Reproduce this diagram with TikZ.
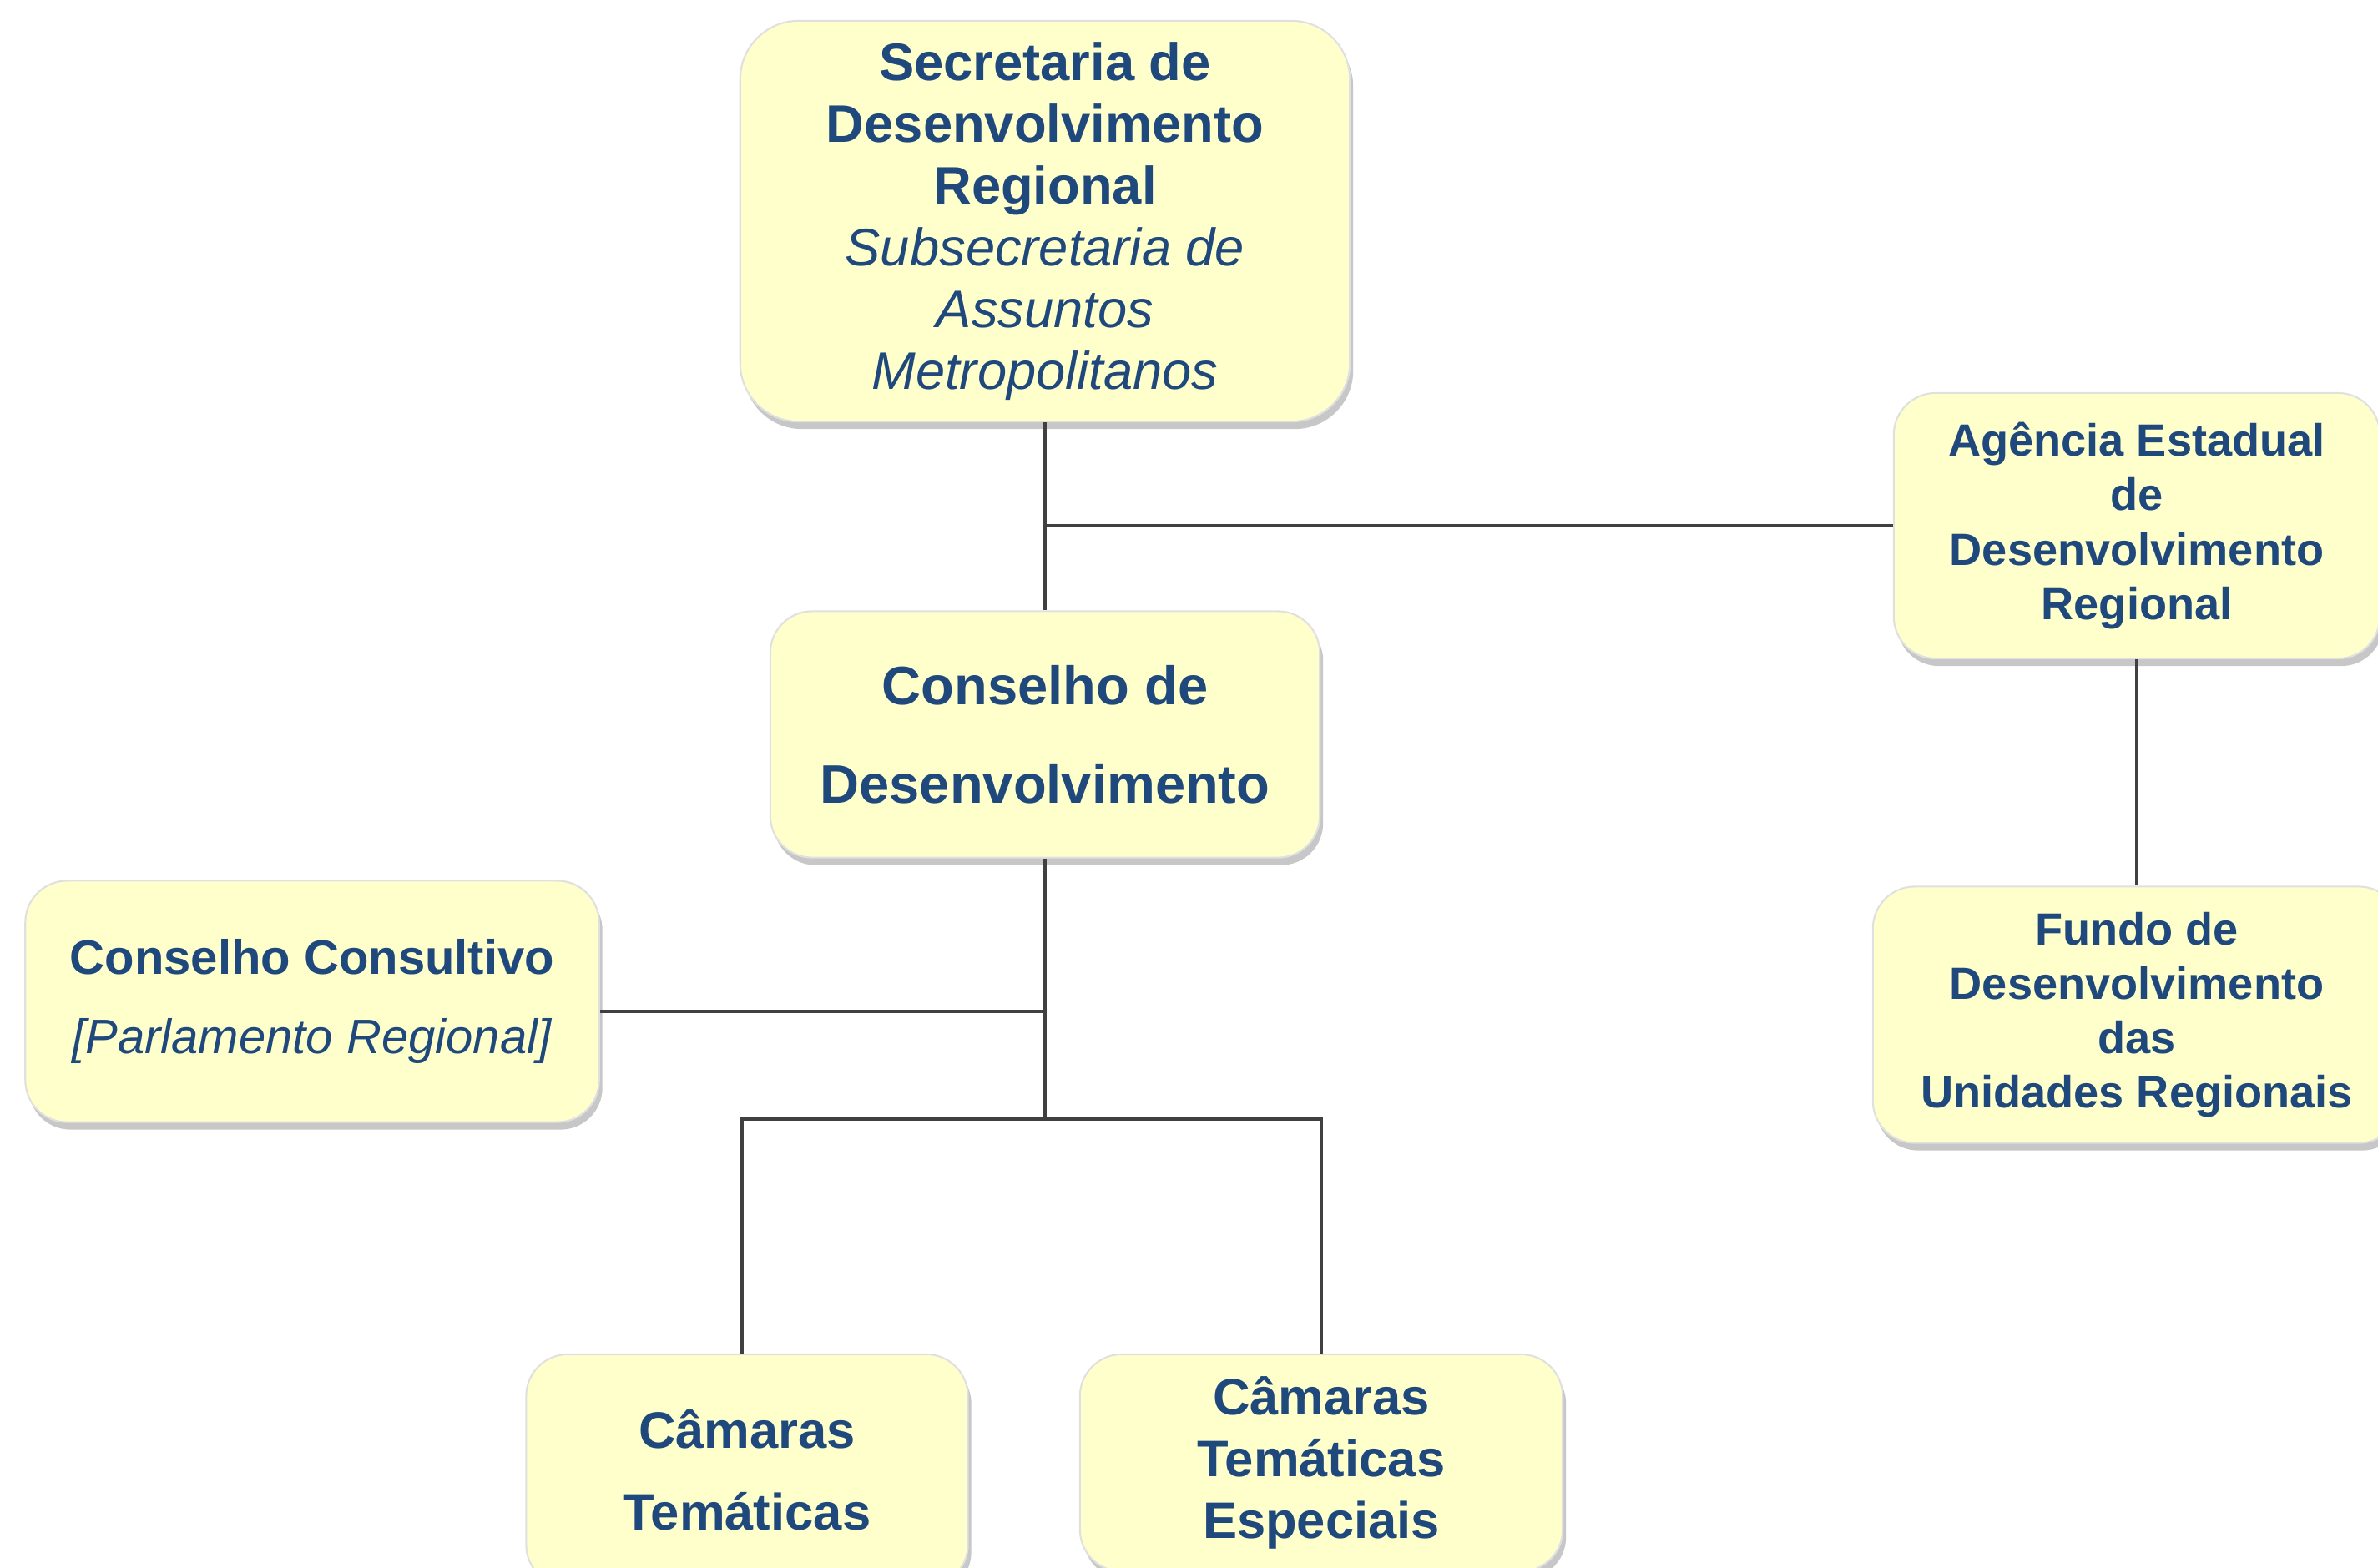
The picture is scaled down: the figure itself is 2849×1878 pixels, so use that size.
\documentclass[tikz,border=0pt]{standalone}
\usepackage{fontspec}
\setmainfont{Liberation Sans}
\usetikzlibrary{positioning,shadows}
\definecolor{azul}{RGB}{31,73,125}
\definecolor{creme}{RGB}{255,255,204}
\definecolor{traco}{RGB}{64,64,64}

\begin{document}
\begin{tikzpicture}[x=0.01cm, y=-0.01cm,
  caixa/.style={rectangle, rounded corners=0.5cm, fill=creme, draw=black!12, line width=0.6pt,
    text=azul, align=center, inner sep=0pt,
    drop shadow={shadow xshift=0.04cm, shadow yshift=-0.09cm, fill=black!55, opacity=0.4}},
  liga/.style={draw=traco, line width=1pt}]
\useasboundingbox (0,0) rectangle (2849,1878);
\clip (0,0) rectangle (2849,1878);
\coordinate (ramo) at (1254,1341);
\node[caixa, minimum width=7.30cm, minimum height=4.80cm, rounded corners=0.7cm, font=\fontsize{18}{21}\selectfont] (sec) at (1252,265) {\textbf{Secretaria de}\\\textbf{Desenvolvimento}\\\textbf{Regional}\\\textit{Subsecretaria de}\\\textit{Assuntos}\\\textit{Metropolitanos}};
\node[caixa, minimum width=6.58cm, minimum height=2.95cm, font=\bfseries\fontsize{18.5}{33.5}\selectfont] (cdr) at (1252,880) {Conselho de\\Desenvolvimento};
\node[caixa, minimum width=5.82cm, minimum height=3.18cm, font=\bfseries\fontsize{15.4}{18.5}\selectfont] (age) at (2560,630) {Agência Estadual\\de\\Desenvolvimento\\Regional};
\node[caixa, minimum width=6.32cm, minimum height=3.07cm, font=\bfseries\fontsize{15.4}{18.5}\selectfont] (fun) at (2560,1216) {Fundo de\\Desenvolvimento\\das\\Unidades Regionais};
\node[caixa, minimum width=6.87cm, minimum height=2.89cm, font=\fontsize{16.5}{27}\selectfont] (cc) at (374,1200) {\textbf{Conselho Consultivo}\\\textit{[Parlamento Regional]}};
\node[caixa, minimum width=5.29cm, minimum height=2.78cm, font=\bfseries\fontsize{17.5}{28}\selectfont] (ct) at (895,1762) {Câmaras\\Temáticas};
\node[caixa, minimum width=5.78cm, minimum height=2.60cm, font=\bfseries\fontsize{17.5}{21}\selectfont] (cte) at (1583,1753) {Câmaras\\Temáticas\\Especiais};
\draw[liga] (sec.south) -- (cdr.north);
\draw[liga] (sec.south |- age.west) -- (age.west);
\draw[liga] (age.south) -- (fun.north);
\draw[liga] (cdr.south) -- (cdr.south |- ramo);
\draw[liga] ([yshift=-0.12cm]cc.east) -- ([yshift=-0.12cm]cc.east -| cdr.south);
\draw[liga] ([xshift=-0.06cm]ct.north) |- (ramo) -| (cte.north);
\end{tikzpicture}
\end{document}
